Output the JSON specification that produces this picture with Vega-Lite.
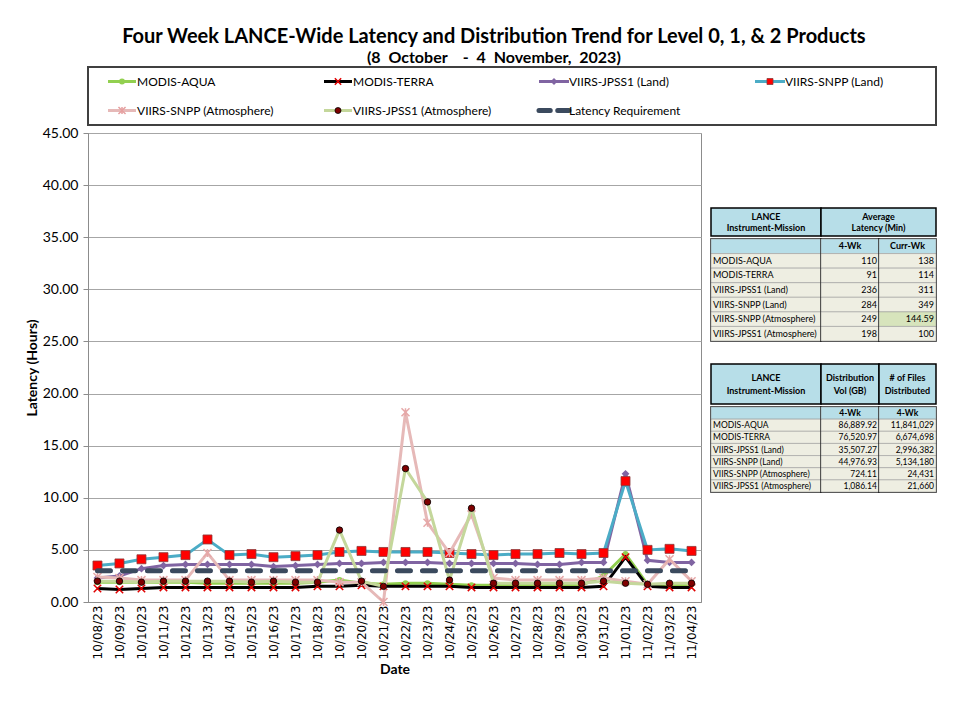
{
  "$schema": "https://vega.github.io/schema/vega-lite/v6.json",
  "background": "white",
  "padding": {"left": 24, "top": 27, "right": 5, "bottom": 5},
  "title": {
    "text": "Four Week LANCE-Wide Latency and Distribution Trend for Level 0, 1, & 2 Products",
    "subtitle": "(8\u00a0 October\u00a0\u00a0\u00a0 -\u00a0 4\u00a0 November,\u00a0 2023)",
    "font": "Lato", "fontSize": 20, "fontWeight": "bold", "color": "#000",
    "subtitleFont": "Lato", "subtitleFontSize": 16, "subtitleFontWeight": "bold", "subtitleColor": "#000",
    "anchor": "middle", "frame": "bounds", "dx": 13, "offset": 0, "subtitlePadding": 3
  },
  "config": {"view": {"stroke": null}},
  "datasets": {
    "lat": [
      {"date": "10/08/23", "aqua": 1.9, "terra": 1.3, "j1land": 2.3, "snland": 3.5, "snatm": 2.4, "j1atm": 2.0, "req": 3},
      {"date": "10/09/23", "aqua": 1.9, "terra": 1.2, "j1land": 2.5, "snland": 3.7, "snatm": 2.3, "j1atm": 2.0, "req": 3},
      {"date": "10/10/23", "aqua": 1.9, "terra": 1.3, "j1land": 3.2, "snland": 4.1, "snatm": 2.1, "j1atm": 1.9, "req": 3},
      {"date": "10/11/23", "aqua": 1.9, "terra": 1.4, "j1land": 3.5, "snland": 4.3, "snatm": 2.1, "j1atm": 2.0, "req": 3},
      {"date": "10/12/23", "aqua": 1.9, "terra": 1.4, "j1land": 3.6, "snland": 4.5, "snatm": 2.1, "j1atm": 2.0, "req": 3},
      {"date": "10/13/23", "aqua": 1.8, "terra": 1.4, "j1land": 3.6, "snland": 6.0, "snatm": 4.7, "j1atm": 2.0, "req": 3},
      {"date": "10/14/23", "aqua": 1.8, "terra": 1.4, "j1land": 3.6, "snland": 4.5, "snatm": 2.1, "j1atm": 2.0, "req": 3},
      {"date": "10/15/23", "aqua": 1.8, "terra": 1.4, "j1land": 3.6, "snland": 4.6, "snatm": 2.1, "j1atm": 1.9, "req": 3},
      {"date": "10/16/23", "aqua": 1.8, "terra": 1.4, "j1land": 3.4, "snland": 4.3, "snatm": 2.1, "j1atm": 2.0, "req": 3},
      {"date": "10/17/23", "aqua": 1.8, "terra": 1.4, "j1land": 3.5, "snland": 4.4, "snatm": 2.1, "j1atm": 1.9, "req": 3},
      {"date": "10/18/23", "aqua": 1.9, "terra": 1.5, "j1land": 3.6, "snland": 4.5, "snatm": 2.1, "j1atm": 1.9, "req": 3},
      {"date": "10/19/23", "aqua": 2.1, "terra": 1.5, "j1land": 3.7, "snland": 4.8, "snatm": 1.9, "j1atm": 6.9, "req": 3},
      {"date": "10/20/23", "aqua": 1.8, "terra": 1.6, "j1land": 3.7, "snland": 4.9, "snatm": 1.9, "j1atm": 2.0, "req": 3},
      {"date": "10/21/23", "aqua": 1.7, "terra": 1.5, "j1land": 3.8, "snland": 4.8, "snatm": 0.0, "j1atm": 1.5, "req": 3},
      {"date": "10/22/23", "aqua": 1.8, "terra": 1.5, "j1land": 3.8, "snland": 4.8, "snatm": 18.2, "j1atm": 12.8, "req": 3},
      {"date": "10/23/23", "aqua": 1.8, "terra": 1.5, "j1land": 3.8, "snland": 4.8, "snatm": 7.6, "j1atm": 9.6, "req": 3},
      {"date": "10/24/23", "aqua": 1.7, "terra": 1.5, "j1land": 3.7, "snland": 4.7, "snatm": 4.7, "j1atm": 2.1, "req": 3},
      {"date": "10/25/23", "aqua": 1.6, "terra": 1.4, "j1land": 3.7, "snland": 4.6, "snatm": 8.4, "j1atm": 9.0, "req": 3},
      {"date": "10/26/23", "aqua": 1.6, "terra": 1.4, "j1land": 3.7, "snland": 4.5, "snatm": 2.3, "j1atm": 1.8, "req": 3},
      {"date": "10/27/23", "aqua": 1.6, "terra": 1.4, "j1land": 3.7, "snland": 4.6, "snatm": 2.1, "j1atm": 1.8, "req": 3},
      {"date": "10/28/23", "aqua": 1.6, "terra": 1.4, "j1land": 3.6, "snland": 4.6, "snatm": 2.1, "j1atm": 1.8, "req": 3},
      {"date": "10/29/23", "aqua": 1.6, "terra": 1.4, "j1land": 3.6, "snland": 4.7, "snatm": 2.1, "j1atm": 1.8, "req": 3},
      {"date": "10/30/23", "aqua": 1.6, "terra": 1.4, "j1land": 3.8, "snland": 4.6, "snatm": 2.1, "j1atm": 1.8, "req": 3},
      {"date": "10/31/23", "aqua": 2.5, "terra": 1.5, "j1land": 3.8, "snland": 4.7, "snatm": 2.3, "j1atm": 2.0, "req": 3},
      {"date": "11/01/23", "aqua": 4.6, "terra": 4.3, "j1land": 12.3, "snland": 11.6, "snatm": 2.0, "j1atm": 1.8, "req": 3},
      {"date": "11/02/23", "aqua": 1.7, "terra": 1.5, "j1land": 4.0, "snland": 5.0, "snatm": 1.7, "j1atm": 1.7, "req": 3},
      {"date": "11/03/23", "aqua": 1.6, "terra": 1.4, "j1land": 3.8, "snland": 5.1, "snatm": 4.1, "j1atm": 1.8, "req": 3},
      {"date": "11/04/23", "aqua": 1.7, "terra": 1.4, "j1land": 3.8, "snland": 4.9, "snatm": 2.0, "j1atm": 1.8, "req": 3}
    ],
    "leg": [
      {"series": "MODIS-AQUA", "col": 1, "row": 1},
      {"series": "MODIS-TERRA", "col": 2, "row": 1},
      {"series": "VIIRS-JPSS1 (Land)", "col": 3, "row": 1},
      {"series": "VIIRS-SNPP (Land)", "col": 4, "row": 1},
      {"series": "VIIRS-SNPP (Atmosphere)", "col": 1, "row": 2},
      {"series": "VIIRS-JPSS1 (Atmosphere)", "col": 2, "row": 2},
      {"series": "Latency Requirement", "col": 3, "row": 2}
    ],
    "hdr": [
      {"t1": "LANCE\nInstrument-Mission", "t2": "Average\nLatency (Min)", "t3": "Distribution\nVol (GB)", "t4": "# of Files\nDistributed"}
    ],
    "tab1": [
      {"r": 0, "name": "", "a": "4-Wk", "b": "Curr-Wk"},
      {"r": 1, "name": "MODIS-AQUA", "a": "110", "b": "138"},
      {"r": 2, "name": "MODIS-TERRA", "a": "91", "b": "114"},
      {"r": 3, "name": "VIIRS-JPSS1 (Land)", "a": "236", "b": "311"},
      {"r": 4, "name": "VIIRS-SNPP (Land)", "a": "284", "b": "349"},
      {"r": 5, "name": "VIIRS-SNPP (Atmosphere)", "a": "249", "b": "144.59"},
      {"r": 6, "name": "VIIRS-JPSS1 (Atmosphere)", "a": "198", "b": "100"}
    ],
    "tab2": [
      {"r": 0, "name": "", "a": "4-Wk", "b": "4-Wk"},
      {"r": 1, "name": "MODIS-AQUA", "a": "86,889.92", "b": "11,841,029"},
      {"r": 2, "name": "MODIS-TERRA", "a": "76,520.97", "b": "6,674,698"},
      {"r": 3, "name": "VIIRS-JPSS1 (Land)", "a": "35,507.27", "b": "2,996,382"},
      {"r": 4, "name": "VIIRS-SNPP (Land)", "a": "44,976.93", "b": "5,134,180"},
      {"r": 5, "name": "VIIRS-SNPP (Atmosphere)", "a": "724.11", "b": "24,431"},
      {"r": 6, "name": "VIIRS-JPSS1 (Atmosphere)", "a": "1,086.14", "b": "21,660"}
    ]
  },
  "bounds": "flush",
  "spacing": 8,
  "vconcat": [
    {
      "width": 848, "height": 58,
      "data": {"name": "leg"},
      "view": {"stroke": "#404040", "strokeWidth": 2},
      "encoding": {
        "x": {"field": "col", "type": "ordinal", "scale": {"type": "point", "padding": 0.463, "align": 0.17}, "axis": null},
        "y": {"field": "row", "type": "ordinal", "scale": {"type": "point", "padding": 0.5}, "axis": null}
      },
      "layer": [
        {"transform": [{"filter": "datum.series === 'MODIS-AQUA'"}], "layer": [
          {"mark": {"type": "point", "shape": "M-1,0L1,0", "size": 784, "filled": false, "color": "#92D050", "strokeWidth": 3, "opacity": 1}},
          {"mark": {"type": "point", "shape": "circle", "filled": true, "color": "#92D050", "size": 36, "opacity": 1}}
        ]},
        {"transform": [{"filter": "datum.series === 'MODIS-TERRA'"}], "layer": [
          {"mark": {"type": "point", "shape": "M-1,0L1,0", "size": 784, "filled": false, "color": "#000000", "strokeWidth": 3, "opacity": 1}},
          {"mark": {"type": "point", "shape": "M-1,-1L1,1M-1,1L1,-1", "filled": false, "color": "#E00000", "strokeWidth": 1.5, "size": 40, "opacity": 1}}
        ]},
        {"transform": [{"filter": "datum.series === 'VIIRS-JPSS1 (Land)'"}], "layer": [
          {"mark": {"type": "point", "shape": "M-1,0L1,0", "size": 900, "filled": false, "color": "#8064A2", "strokeWidth": 3, "opacity": 1}},
          {"mark": {"type": "point", "shape": "diamond", "filled": true, "color": "#8064A2", "size": 50, "opacity": 1}}
        ]},
        {"transform": [{"filter": "datum.series === 'VIIRS-SNPP (Land)'"}], "layer": [
          {"mark": {"type": "point", "shape": "M-1,0L1,0", "size": 900, "filled": false, "color": "#4BACC6", "strokeWidth": 3, "opacity": 1}},
          {"mark": {"type": "point", "shape": "square", "filled": true, "fill": "#FF0000", "stroke": "#8B3A3A", "strokeWidth": 0.8, "size": 36, "opacity": 1}}
        ]},
        {"transform": [{"filter": "datum.series === 'VIIRS-SNPP (Atmosphere)'"}], "layer": [
          {"mark": {"type": "point", "shape": "M-1,0L1,0", "size": 784, "filled": false, "color": "#E6B9B8", "strokeWidth": 3, "opacity": 1}},
          {"mark": {"type": "point", "shape": "M-1,-1L1,1M-1,1L1,-1M0,-1L0,1", "filled": false, "color": "#E6A0A0", "strokeWidth": 1.5, "size": 50, "opacity": 1}}
        ]},
        {"transform": [{"filter": "datum.series === 'VIIRS-JPSS1 (Atmosphere)'"}], "layer": [
          {"mark": {"type": "point", "shape": "M-1,0L1,0", "size": 784, "filled": false, "color": "#C4D79B", "strokeWidth": 3, "opacity": 1}},
          {"mark": {"type": "point", "shape": "circle", "filled": true, "fill": "#7F0000", "stroke": "#000", "strokeWidth": 0.8, "size": 36, "opacity": 1}}
        ]},
        {"transform": [{"filter": "datum.series === 'Latency Requirement'"}], "layer": [
          {"mark": {"type": "point", "shape": "M-1,0L-0.25,0M0.25,0L1,0", "size": 900, "filled": false, "color": "#3B4A5E", "strokeWidth": 5, "strokeCap": "round", "opacity": 1}}
        ]},
        {"mark": {"type": "text", "align": "left", "dx": 15, "font": "Lato", "fontSize": 12, "color": "#000"},
         "encoding": {"text": {"field": "series"}}}
      ]
    },
    {
      "bounds": "flush",
      "spacing": 10,
      "hconcat": [
        {
          "width": 613, "height": 469,
          "data": {"name": "lat"},
          "view": {"stroke": "#8c8c8c", "strokeWidth": 1},
          "transform": [{"fold": ["aqua", "terra", "j1land", "snland", "snatm", "j1atm", "req"], "as": ["series", "value"]}],
          "encoding": {
            "x": {"field": "date", "type": "ordinal", "sort": null,
              "scale": {"type": "point", "padding": 0.43},
              "axis": {"title": "Date", "labelAngle": -90, "labelFont": "DejaVu Sans", "labelFontSize": 12, "labelColor": "#000",
                "ticks": false, "domainColor": "#8c8c8c", "labelPadding": 3, "titleFont": "Lato", "titleFontSize": 14,
                "titleFontWeight": "bold", "titleColor": "#000", "titlePadding": 4}},
            "y": {"field": "value", "type": "quantitative", "scale": {"domain": [0, 45]},
              "axis": {"title": "Latency (Hours)", "values": [0, 5, 10, 15, 20, 25, 30, 35, 40, 45], "format": ".2f",
                "grid": true, "gridColor": "#a6a6a6", "gridWidth": 1, "domainColor": "#8c8c8c", "tickColor": "#8c8c8c", "tickSize": 5,
                "labelFont": "Lato", "labelFontSize": 14, "labelColor": "#000", "labelPadding": 5,
                "titleFont": "Lato", "titleFontSize": 14, "titleFontWeight": "bold", "titleColor": "#000", "titlePadding": 3}}
          },
          "layer": [
            {"transform": [{"filter": "datum.series === 'aqua'"}], "layer": [
              {"mark": {"type": "line", "color": "#92D050", "strokeWidth": 3}},
              {"mark": {"type": "point", "shape": "circle", "filled": true, "color": "#92D050", "size": 36, "opacity": 1}}
            ]},
            {"transform": [{"filter": "datum.series === 'terra'"}], "layer": [
              {"mark": {"type": "line", "color": "#000000", "strokeWidth": 3}},
              {"mark": {"type": "point", "shape": "M-1,-1L1,1M-1,1L1,-1", "filled": false, "color": "#E00000", "strokeWidth": 1.5, "size": 55, "opacity": 1}}
            ]},
            {"transform": [{"filter": "datum.series === 'j1land'"}], "layer": [
              {"mark": {"type": "line", "color": "#8064A2", "strokeWidth": 3}},
              {"mark": {"type": "point", "shape": "diamond", "filled": true, "color": "#8064A2", "size": 60, "opacity": 1}}
            ]},
            {"transform": [{"filter": "datum.series === 'snland'"}], "layer": [
              {"mark": {"type": "line", "color": "#4BACC6", "strokeWidth": 3}},
              {"mark": {"type": "point", "shape": "square", "filled": true, "fill": "#FF0000", "stroke": "#8B3A3A", "strokeWidth": 0.8, "size": 81, "opacity": 1}}
            ]},
            {"transform": [{"filter": "datum.series === 'snatm'"}], "layer": [
              {"mark": {"type": "line", "color": "#E6B9B8", "strokeWidth": 3}},
              {"mark": {"type": "point", "shape": "M-1,-1L1,1M-1,1L1,-1M0,-1L0,1", "filled": false, "color": "#E6A8A8", "strokeWidth": 1.5, "size": 64, "opacity": 1}}
            ]},
            {"transform": [{"filter": "datum.series === 'j1atm'"}], "layer": [
              {"mark": {"type": "line", "color": "#C4D79B", "strokeWidth": 3}},
              {"mark": {"type": "point", "shape": "circle", "filled": true, "fill": "#7F0000", "stroke": "#000", "strokeWidth": 0.8, "size": 42, "opacity": 1}}
            ]},
            {"transform": [{"filter": "datum.series === 'req'"}], "layer": [
              {"mark": {"type": "line", "color": "#3B4A5E", "strokeWidth": 5, "strokeDash": [13, 12], "strokeCap": "round"}}
            ]}
          ]
        },
        {
          "spacing": 20,
          "vconcat": [
            {"width": 225, "height": 54, "data": {"values": []}, "mark": "point"},
            {
              "spacing": 0,
              "vconcat": [
                {"bounds": "flush", "spacing": 0, "hconcat": [
                  {"width": 110, "height": 28, "data": {"name": "hdr"}, "view": {"fill": "#B7DEE8", "stroke": "#000", "strokeWidth": 1.5},
                   "mark": {"type": "text", "font": "Lato", "fontWeight": "bold", "fontSize": 9, "lineBreak": "\n", "lineHeight": 11, "dy": -5, "color": "#000"},
                   "encoding": {"text": {"field": "t1"}}},
                  {"width": 115, "height": 28, "data": {"name": "hdr"}, "view": {"fill": "#B7DEE8", "stroke": "#000", "strokeWidth": 1.5},
                   "mark": {"type": "text", "font": "Lato", "fontWeight": "bold", "fontSize": 9, "lineBreak": "\n", "lineHeight": 11, "dy": -5, "color": "#000"},
                   "encoding": {"text": {"field": "t2"}}}
                ]},
                {"bounds": "flush", "spacing": 0, "hconcat": [
                  {"width": 110, "height": 102, "data": {"name": "tab1"}, "view": {"stroke": "#000", "strokeWidth": 1.5},
                   "encoding": {"y": {"field": "r", "type": "ordinal", "axis": null, "scale": {"paddingInner": 0, "paddingOuter": 0}}},
                   "layer": [
                     {"mark": {"type": "rect", "stroke": "#9a9a9a", "strokeWidth": 0.6},
                      "encoding": {"fill": {"condition": {"test": "datum.r === 0", "value": "#B7DEE8"}, "value": "#EEEEE2"}}},
                     {"transform": [{"filter": "datum.r > 0"}],
                      "mark": {"type": "text", "align": "left", "dx": 2, "font": "Lato", "fontSize": 9, "color": "#000"},
                      "encoding": {"text": {"field": "name"}, "x": {"datum": 0, "type": "quantitative", "scale": {"domain": [0, 1]}, "axis": null}}}
                   ]},
                  {"width": 58, "height": 102, "data": {"name": "tab1"}, "view": {"stroke": "#000", "strokeWidth": 1.5},
                   "encoding": {"y": {"field": "r", "type": "ordinal", "axis": null, "scale": {"paddingInner": 0, "paddingOuter": 0}}},
                   "layer": [
                     {"mark": {"type": "rect", "stroke": "#9a9a9a", "strokeWidth": 0.6},
                      "encoding": {"fill": {"condition": {"test": "datum.r === 0", "value": "#B7DEE8"}, "value": "#EEEEE2"}}},
                     {"transform": [{"filter": "datum.r === 0"}],
                      "mark": {"type": "text", "font": "Lato", "fontWeight": "bold", "fontSize": 9, "color": "#000"},
                      "encoding": {"text": {"field": "a"}}},
                     {"transform": [{"filter": "datum.r > 0"}],
                      "mark": {"type": "text", "align": "right", "dx": -2, "font": "Lato", "fontSize": 9, "color": "#000"},
                      "encoding": {"text": {"field": "a"}, "x": {"datum": 1, "type": "quantitative", "scale": {"domain": [0, 1]}, "axis": null}}}
                   ]},
                  {"width": 57, "height": 102, "data": {"name": "tab1"}, "view": {"stroke": "#000", "strokeWidth": 1.5},
                   "encoding": {"y": {"field": "r", "type": "ordinal", "axis": null, "scale": {"paddingInner": 0, "paddingOuter": 0}}},
                   "layer": [
                     {"mark": {"type": "rect", "stroke": "#9a9a9a", "strokeWidth": 0.6},
                      "encoding": {"fill": {"condition": [{"test": "datum.r === 0", "value": "#B7DEE8"}, {"test": "datum.r === 5", "value": "#D7E4BC"}], "value": "#EEEEE2"}}},
                     {"transform": [{"filter": "datum.r === 0"}],
                      "mark": {"type": "text", "font": "Lato", "fontWeight": "bold", "fontSize": 9, "color": "#000"},
                      "encoding": {"text": {"field": "b"}}},
                     {"transform": [{"filter": "datum.r > 0"}],
                      "mark": {"type": "text", "align": "right", "dx": -2, "font": "Lato", "fontSize": 9, "color": "#000"},
                      "encoding": {"text": {"field": "b"}, "x": {"datum": 1, "type": "quantitative", "scale": {"domain": [0, 1]}, "axis": null}}}
                   ]}
                ]}
              ]
            },
            {
              "spacing": 0,
              "vconcat": [
                {"bounds": "flush", "spacing": 0, "hconcat": [
                  {"width": 110, "height": 40, "data": {"name": "hdr"}, "view": {"fill": "#B7DEE8", "stroke": "#000", "strokeWidth": 1.5},
                   "mark": {"type": "text", "font": "Lato", "fontWeight": "bold", "fontSize": 9, "lineBreak": "\n", "lineHeight": 13, "dy": -6, "color": "#000"},
                   "encoding": {"text": {"field": "t1"}}},
                  {"width": 58, "height": 40, "data": {"name": "hdr"}, "view": {"fill": "#B7DEE8", "stroke": "#000", "strokeWidth": 1.5},
                   "mark": {"type": "text", "font": "Lato", "fontWeight": "bold", "fontSize": 9, "lineBreak": "\n", "lineHeight": 13, "dy": -6, "color": "#000"},
                   "encoding": {"text": {"field": "t3"}}},
                  {"width": 57, "height": 40, "data": {"name": "hdr"}, "view": {"fill": "#B7DEE8", "stroke": "#000", "strokeWidth": 1.5},
                   "mark": {"type": "text", "font": "Lato", "fontWeight": "bold", "fontSize": 9, "lineBreak": "\n", "lineHeight": 13, "dy": -6, "color": "#000"},
                   "encoding": {"text": {"field": "t4"}}}
                ]},
                {"bounds": "flush", "spacing": 0, "hconcat": [
                  {"width": 110, "height": 85, "data": {"name": "tab2"}, "view": {"stroke": "#000", "strokeWidth": 1.5},
                   "encoding": {"y": {"field": "r", "type": "ordinal", "axis": null, "scale": {"paddingInner": 0, "paddingOuter": 0}}},
                   "layer": [
                     {"mark": {"type": "rect", "stroke": "#9a9a9a", "strokeWidth": 0.6},
                      "encoding": {"fill": {"condition": {"test": "datum.r === 0", "value": "#B7DEE8"}, "value": "#EEEEE2"}}},
                     {"transform": [{"filter": "datum.r > 0"}],
                      "mark": {"type": "text", "align": "left", "dx": 2, "font": "Lato", "fontSize": 8.5, "color": "#000"},
                      "encoding": {"text": {"field": "name"}, "x": {"datum": 0, "type": "quantitative", "scale": {"domain": [0, 1]}, "axis": null}}}
                   ]},
                  {"width": 58, "height": 85, "data": {"name": "tab2"}, "view": {"stroke": "#000", "strokeWidth": 1.5},
                   "encoding": {"y": {"field": "r", "type": "ordinal", "axis": null, "scale": {"paddingInner": 0, "paddingOuter": 0}}},
                   "layer": [
                     {"mark": {"type": "rect", "stroke": "#9a9a9a", "strokeWidth": 0.6},
                      "encoding": {"fill": {"condition": {"test": "datum.r === 0", "value": "#B7DEE8"}, "value": "#EEEEE2"}}},
                     {"transform": [{"filter": "datum.r === 0"}],
                      "mark": {"type": "text", "font": "Lato", "fontWeight": "bold", "fontSize": 8.5, "color": "#000"},
                      "encoding": {"text": {"field": "a"}}},
                     {"transform": [{"filter": "datum.r > 0"}],
                      "mark": {"type": "text", "align": "right", "dx": -2, "font": "Lato", "fontSize": 8.5, "color": "#000"},
                      "encoding": {"text": {"field": "a"}, "x": {"datum": 1, "type": "quantitative", "scale": {"domain": [0, 1]}, "axis": null}}}
                   ]},
                  {"width": 57, "height": 85, "data": {"name": "tab2"}, "view": {"stroke": "#000", "strokeWidth": 1.5},
                   "encoding": {"y": {"field": "r", "type": "ordinal", "axis": null, "scale": {"paddingInner": 0, "paddingOuter": 0}}},
                   "layer": [
                     {"mark": {"type": "rect", "stroke": "#9a9a9a", "strokeWidth": 0.6},
                      "encoding": {"fill": {"condition": {"test": "datum.r === 0", "value": "#B7DEE8"}, "value": "#EEEEE2"}}},
                     {"transform": [{"filter": "datum.r === 0"}],
                      "mark": {"type": "text", "font": "Lato", "fontWeight": "bold", "fontSize": 8.5, "color": "#000"},
                      "encoding": {"text": {"field": "b"}}},
                     {"transform": [{"filter": "datum.r > 0"}],
                      "mark": {"type": "text", "align": "right", "dx": -2, "font": "Lato", "fontSize": 8.5, "color": "#000"},
                      "encoding": {"text": {"field": "b"}, "x": {"datum": 1, "type": "quantitative", "scale": {"domain": [0, 1]}, "axis": null}}}
                   ]}
                ]}
              ]
            }
          ]
        }
      ]
    }
  ]
}
